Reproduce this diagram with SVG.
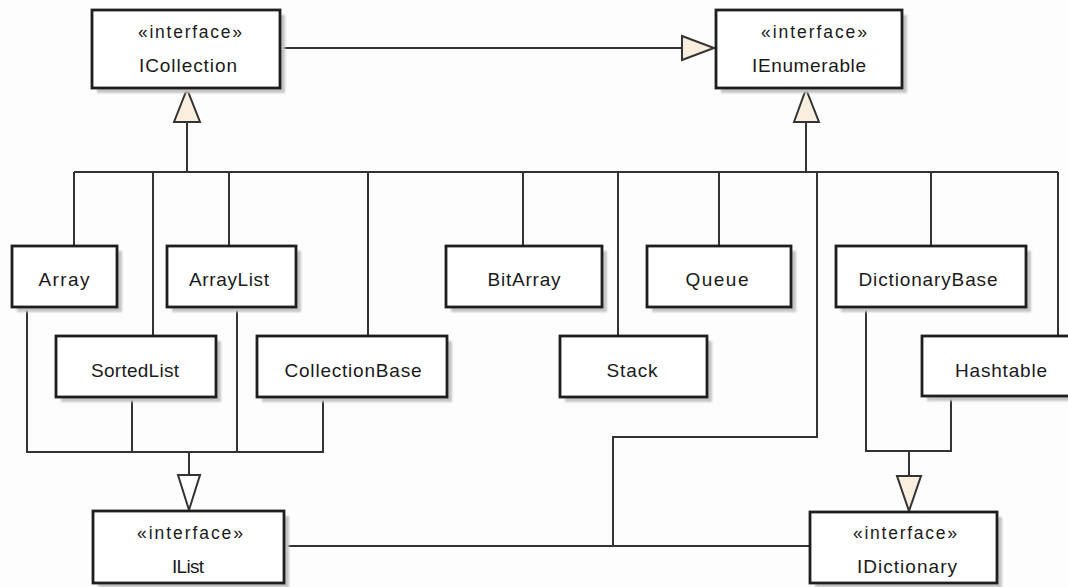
<svg xmlns="http://www.w3.org/2000/svg" width="1068" height="587" viewBox="0 0 1068 587">
<style>
.bg{fill:#fdfdfd}
.box{fill:#ffffff;stroke:#1e1e1e;stroke-width:2.8}
.sh{fill:#c4c4c4;filter:url(#blur)}
.ln{fill:none;stroke:#333333;stroke-width:2}
.tri{fill:#faefdf;stroke:#333333;stroke-width:2;stroke-linejoin:miter}
.triw{fill:#ffffff;stroke:#333333;stroke-width:2}
.t{font-family:"Liberation Sans",Arial,sans-serif;font-size:19px;fill:#1a1a1a;text-anchor:middle}
.s{font-family:"Liberation Sans",Arial,sans-serif;font-size:17.5px;fill:#1a1a1a;text-anchor:middle}
</style>
<defs>
<filter id="blur" x="-10%" y="-10%" width="120%" height="130%"><feGaussianBlur stdDeviation="1.2"/></filter>
</defs>
<rect class="bg" x="0" y="0" width="1068" height="587"/>
<g id="connectors">
<polyline class="ln" points="280,48 682,48"/>
<polygon class="tri" points="682,36 714,48 682,60"/>
<line class="ln" x1="187" y1="122" x2="187" y2="172"/>
<polygon class="tri" points="174,122 187,89 200,122"/>
<line class="ln" x1="806" y1="122" x2="806" y2="172"/>
<polygon class="tri" points="794,122 806,89 819,122"/>
<line class="ln" x1="74" y1="172" x2="1058" y2="172"/>
<line class="ln" x1="74" y1="172" x2="74" y2="246"/>
<line class="ln" x1="153" y1="172" x2="153" y2="336"/>
<line class="ln" x1="229" y1="172" x2="229" y2="246"/>
<line class="ln" x1="368" y1="172" x2="368" y2="336"/>
<line class="ln" x1="523" y1="172" x2="523" y2="246"/>
<line class="ln" x1="618" y1="172" x2="618" y2="336"/>
<line class="ln" x1="719" y1="172" x2="719" y2="246"/>
<line class="ln" x1="931" y1="172" x2="931" y2="246"/>
<line class="ln" x1="1058" y1="172" x2="1058" y2="336"/>
<polyline class="ln" points="817,172 817,437 613,437 613,546"/>
<polyline class="ln" points="27,307 27,452 323,452 323,397"/>
<line class="ln" x1="132" y1="397" x2="132" y2="452"/>
<line class="ln" x1="237" y1="307" x2="237" y2="452"/>
<line class="ln" x1="189" y1="452" x2="189" y2="475"/>
<polygon class="triw" points="178,475 200,475 189,510"/>
<line class="ln" x1="284" y1="546" x2="810" y2="546"/>
<polyline class="ln" points="866,307 866,451 951,451 951,396"/>
<line class="ln" x1="909" y1="451" x2="909" y2="476"/>
<polygon class="tri" points="897,476 921,476 909,511"/>
</g>
<g id="ICollection">
<rect class="sh" x="97" y="15" width="188" height="78"/>
<rect class="box" x="92" y="10" width="188" height="78"/>
<text class="s" x="190" y="38" textLength="104">«interface»</text>
<text class="t" x="188" y="72" textLength="98">ICollection</text>
</g>
<g id="IEnumerable">
<rect class="sh" x="721" y="15" width="186" height="78"/>
<rect class="box" x="716" y="10" width="186" height="78"/>
<text class="s" x="814" y="38" textLength="106">«interface»</text>
<text class="t" x="809" y="72" textLength="114">IEnumerable</text>
</g>
<g id="Array">
<rect class="sh" x="17" y="251" width="105" height="61"/>
<rect class="box" x="12" y="246" width="105" height="61"/>
<text class="t" x="64" y="286" textLength="51">Array</text>
</g>
<g id="ArrayList">
<rect class="sh" x="172" y="251" width="129" height="61"/>
<rect class="box" x="167" y="246" width="129" height="61"/>
<text class="t" x="229" y="286" textLength="80">ArrayList</text>
</g>
<g id="BitArray">
<rect class="sh" x="451" y="251" width="156" height="61"/>
<rect class="box" x="446" y="246" width="156" height="61"/>
<text class="t" x="524" y="286" textLength="73">BitArray</text>
</g>
<g id="Queue">
<rect class="sh" x="652" y="251" width="144" height="61"/>
<rect class="box" x="647" y="246" width="144" height="61"/>
<text class="t" x="717" y="286" textLength="63">Queue</text>
</g>
<g id="DictionaryBase">
<rect class="sh" x="841" y="251" width="190" height="61"/>
<rect class="box" x="836" y="246" width="190" height="61"/>
<text class="t" x="928" y="286" textLength="139">DictionaryBase</text>
</g>
<g id="SortedList">
<rect class="sh" x="61" y="341" width="160" height="61"/>
<rect class="box" x="56" y="336" width="160" height="61"/>
<text class="t" x="135" y="377" textLength="88">SortedList</text>
</g>
<g id="CollectionBase">
<rect class="sh" x="262" y="341" width="190" height="61"/>
<rect class="box" x="257" y="336" width="190" height="61"/>
<text class="t" x="353" y="377" textLength="137">CollectionBase</text>
</g>
<g id="Stack">
<rect class="sh" x="565" y="341" width="147" height="61"/>
<rect class="box" x="560" y="336" width="147" height="61"/>
<text class="t" x="632" y="377" textLength="51">Stack</text>
</g>
<g id="Hashtable">
<rect class="sh" x="927" y="341" width="153" height="60"/>
<rect class="box" x="922" y="336" width="153" height="60"/>
<text class="t" x="1001" y="377" textLength="92">Hashtable</text>
</g>
<g id="IList">
<rect class="sh" x="98" y="516" width="191" height="72"/>
<rect class="box" x="93" y="511" width="191" height="72"/>
<text class="s" x="190" y="539" textLength="106">«interface»</text>
<text class="t" x="188" y="573" textLength="32">IList</text>
</g>
<g id="IDictionary">
<rect class="sh" x="815" y="517" width="187" height="71"/>
<rect class="box" x="810" y="512" width="187" height="71"/>
<text class="s" x="905" y="539" textLength="104">«interface»</text>
<text class="t" x="907" y="573" textLength="100">IDictionary</text>
</g>
</svg>
